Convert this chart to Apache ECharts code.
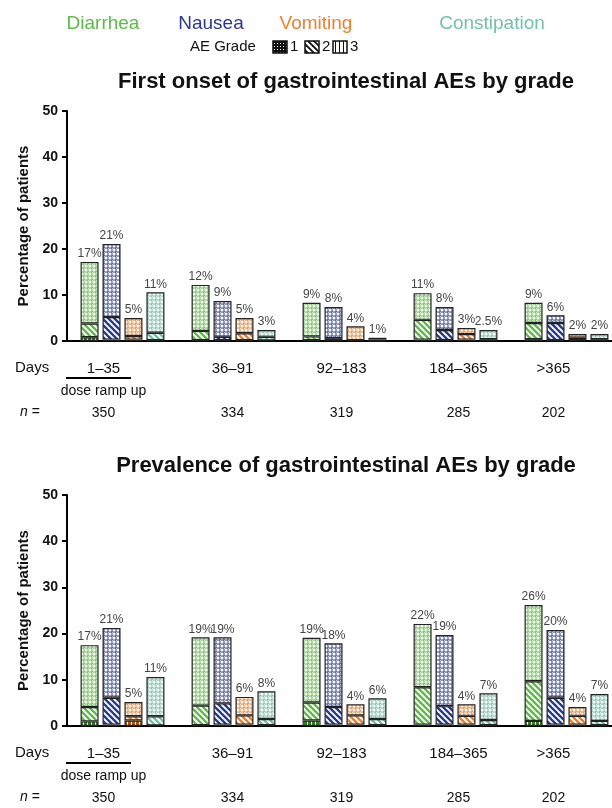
<!DOCTYPE html>
<html><head><meta charset="utf-8">
<script src="https://cdn.jsdelivr.net/npm/echarts@6/dist/echarts.min.js"></script>
<style>html,body{margin:0;padding:0;background:#fff}#c{width:612px;height:808px}</style>
</head><body><div id="c"></div>
<script>
// ---------- DATA ----------
const categories = ['1–35', '36–91', '92–183', '184–365', '>365'];
const nValues = ['350', '334', '319', '285', '202'];
const diseases = ['Diarrhea', 'Nausea', 'Vomiting', 'Constipation'];
const gradeNames = ['1', '2', '3'];
const yTickMin = 0, yTickMax = 50, yTickStep = 10;

// First onset (percent of patients)
const onsetDiarrheaG1 = [13.4, 10.0, 7.3, 5.8, 4.4];
const onsetDiarrheaG2 = [3.0, 2.0, 0.8, 4.3, 3.5];
const onsetDiarrheaG3 = [0.8, 0.2, 0.2, 0.3, 0.4];
const onsetDiarrheaLabels = ['17%', '12%', '9%', '11%', '9%'];
const onsetNauseaG1 = [15.9, 7.8, 6.8, 5.0, 1.7];
const onsetNauseaG2 = [4.9, 0.7, 0.4, 2.2, 3.7];
const onsetNauseaG3 = [0.3, 0.2, 0.2, 0.2, 0.2];
const onsetNauseaLabels = ['21%', '9%', '8%', '8%', '6%'];
const onsetVomitingG1 = [3.9, 3.3, 3.0, 1.3, 0.8];
const onsetVomitingG2 = [0.8, 1.5, 0.1, 1.2, 0.5];
const onsetVomitingG3 = [0.3, 0.2, 0.1, 0.3, 0.2];
const onsetVomitingLabels = ['5%', '5%', '4%', '3%', '2%'];
const onsetConstipationG1 = [8.8, 1.5, 0.4, 2.0, 1.1];
const onsetConstipationG2 = [1.6, 0.8, 0.3, 0.3, 0.3];
const onsetConstipationG3 = [0.2, 0.1, 0.0, 0.1, 0.1];
const onsetConstipationLabels = ['11%', '3%', '1%', '2.5%', '2%'];

// Prevalence (percent of patients)
const prevDiarrheaG1 = [13.4, 14.8, 14.0, 13.7, 16.5];
const prevDiarrheaG2 = [3.1, 4.2, 3.9, 8.1, 8.6];
const prevDiarrheaG3 = [1.0, 0.2, 1.2, 0.3, 1.1];
const prevDiarrheaLabels = ['17%', '19%', '19%', '22%', '26%'];
const prevNauseaG1 = [15.1, 14.3, 13.8, 15.4, 14.7];
const prevNauseaG2 = [5.8, 4.6, 3.8, 4.0, 5.8];
const prevNauseaG3 = [0.3, 0.3, 0.3, 0.3, 0.3];
const prevNauseaLabels = ['21%', '19%', '18%', '19%', '20%'];
const prevVomitingG1 = [3.1, 4.0, 2.4, 2.5, 1.9];
const prevVomitingG2 = [0.9, 2.0, 2.0, 1.9, 1.9];
const prevVomitingG3 = [1.2, 0.3, 0.3, 0.3, 0.3];
const prevVomitingLabels = ['5%', '6%', '4%', '4%', '4%'];
const prevConstipationG1 = [8.5, 6.0, 4.5, 5.8, 5.8];
const prevConstipationG2 = [2.0, 1.3, 1.3, 1.1, 0.9];
const prevConstipationG3 = [0.1, 0.2, 0.2, 0.2, 0.2];
const prevConstipationLabels = ['11%', '8%', '6%', '7%', '7%'];

// ---------- STYLE ----------
const FONT = '"Liberation Sans", Arial, Helvetica, sans-serif';
const textColors = {Diarrhea: '#5bbd48', Nausea: '#2b3a8c', Vomiting: '#f08030', Constipation: '#72c2aa'};
const baseColors = {Diarrhea: '#5cbc46', Nausea: '#283a8f', Vomiting: '#f07d22', Constipation: '#6fc0a8'};
const dotColors = {Diarrhea: '#80cc6d', Nausea: '#5f6bab', Vomiting: '#f39a55', Constipation: '#8ccdb9'};
const darkColors = {Diarrhea: '#2f7a22', Nausea: '#101c55', Vomiting: '#b55208', Constipation: '#3b8a73'};
const labelShift = [-19, -1, -3, 3, -13];

function mk(w, h, fn) { const c = document.createElement('canvas'); c.width = w; c.height = h; fn(c.getContext('2d')); return c; }
function dotPattern(color) {
  return {image: mk(4, 4, g => {
    g.fillStyle = color; g.fillRect(0, 0, 4, 4);
    g.fillStyle = '#ffffff';
    g.beginPath(); g.arc(2, 2, 1.5, 0, Math.PI * 2); g.fill();
    g.fillStyle = 'rgba(255,255,255,0.6)';
    g.fillRect(0, 0, 1, 1);
  }), repeat: 'repeat'};
}
function stripePattern(color, bg) {
  return {image: mk(6, 6, g => {
    g.fillStyle = bg || '#ffffff'; g.fillRect(0, 0, 6, 6);
    g.strokeStyle = color; g.lineWidth = 2.4;
    for (const k of [-6, 0, 6]) { g.beginPath(); g.moveTo(k - 1, -1); g.lineTo(k + 7, 7); g.stroke(); }
  }), repeat: 'repeat'};
}
function vertPattern(color, bg) {
  return {image: mk(4, 4, g => {
    g.fillStyle = color; g.fillRect(0, 0, 4, 4);
    g.fillStyle = bg || '#ffffff'; g.fillRect(3, 0, 1, 4);
  }), repeat: 'repeat'};
}

const charts = [
  {key: 'onset', title: 'First onset of gastrointestinal AEs by grade', top: 111, height: 230,
   data: {
     Diarrhea: [onsetDiarrheaG1, onsetDiarrheaG2, onsetDiarrheaG3, onsetDiarrheaLabels],
     Nausea: [onsetNauseaG1, onsetNauseaG2, onsetNauseaG3, onsetNauseaLabels],
     Vomiting: [onsetVomitingG1, onsetVomitingG2, onsetVomitingG3, onsetVomitingLabels],
     Constipation: [onsetConstipationG1, onsetConstipationG2, onsetConstipationG3, onsetConstipationLabels]}},
  {key: 'prev', title: 'Prevalence of gastrointestinal AEs by grade', top: 495, height: 231,
   data: {
     Diarrhea: [prevDiarrheaG1, prevDiarrheaG2, prevDiarrheaG3, prevDiarrheaLabels],
     Nausea: [prevNauseaG1, prevNauseaG2, prevNauseaG3, prevNauseaLabels],
     Vomiting: [prevVomitingG1, prevVomitingG2, prevVomitingG3, prevVomitingLabels],
     Constipation: [prevConstipationG1, prevConstipationG2, prevConstipationG3, prevConstipationLabels]}}
];

const rich = {};
categories.forEach((c, i) => {
  const s = labelShift[i];
  const pad = s < 0 ? [0, -2 * s, 0, 0] : [0, 0, 0, 2 * s];
  rich['d' + i] = {fontSize: 15, lineHeight: 22, color: '#111', fontFamily: FONT, align: 'center', padding: pad};
  rich['r' + i] = {fontSize: 14, lineHeight: 22, color: '#111', fontFamily: FONT, align: 'center', padding: pad};
  rich['n' + i] = {fontSize: 14, lineHeight: 22, color: '#111', fontFamily: FONT, align: 'center', padding: pad};
});

const grids = [], xAxes = [], yAxes = [], series = [], titles = [];
charts.forEach((ch, ci) => {
  grids.push({left: 67, top: ch.top, height: ch.height, width: 555, containLabel: false, outerBoundsMode: 'none'});
  xAxes.push({type: 'category', gridIndex: ci, data: categories,
    axisLine: {lineStyle: {color: '#000', width: 2}}, axisTick: {show: false},
    axisLabel: {interval: 0, margin: 17, fontFamily: FONT, rich: rich,
      formatter: (v, i) => `{d${i}|${v}}\n{r${i}|${i === 0 ? 'dose ramp up' : ' '}}\n{n${i}|${nValues[i]}}`}});
  yAxes.push({type: 'value', gridIndex: ci, min: yTickMin, max: yTickMax, interval: yTickStep,
    name: 'Percentage of patients', nameLocation: 'middle', nameGap: 36,
    nameTextStyle: {fontFamily: FONT, fontSize: 15, fontWeight: 'bold', color: '#111'},
    axisLine: {show: true, lineStyle: {color: '#000', width: 2}},
    axisTick: {show: true, length: 5, lineStyle: {color: '#000', width: 2}},
    axisLabel: {fontFamily: FONT, fontSize: 14, fontWeight: 'bold', color: '#111', margin: 9},
    splitLine: {show: false}});
  titles.push({text: ch.title, left: 341, textAlign: 'center', top: ch.top - 45,
    textStyle: {fontFamily: FONT, fontSize: 22, fontWeight: 'bold', color: '#111'}});
  diseases.forEach(d => {
    const [g1, g2, g3, labels] = ch.data[d];
    const stack = ch.key + d;
    const common = {type: 'bar', xAxisIndex: ci, yAxisIndex: ci, stack: stack, barWidth: 18, barGap: '22%'};
    series.push(Object.assign({}, common, {name: d + ' grade 3', data: g3,
      itemStyle: {color: vertPattern(darkColors[d]), borderColor: '#222', borderWidth: 1.2}}));
    series.push(Object.assign({}, common, {name: d + ' grade 2', data: g2,
      itemStyle: {color: stripePattern(baseColors[d]), borderColor: '#222', borderWidth: 1.2}}));
    series.push(Object.assign({}, common, {name: d + ' grade 1', data: g1,
      itemStyle: {color: dotPattern(dotColors[d]), borderColor: '#222', borderWidth: 1.2},
      label: {show: true, position: 'top', distance: 2, fontFamily: FONT, fontSize: 12, color: '#444',
        formatter: p => labels[p.dataIndex]}}));
  });
});

// legend / annotation graphics
const blackDots = {image: mk(3, 3, g => { g.fillStyle = '#111'; g.fillRect(0, 0, 3, 3); g.fillStyle = '#fff'; g.fillRect(1, 1, 1, 1); }), repeat: 'repeat'};
const legendPatterns = [blackDots, stripePattern('#fff', '#111'), vertPattern('#fff', '#111')];
const graphic = [];
const legendX = [103, 211, 316, 492];
diseases.forEach((d, i) => graphic.push({type: 'text', x: legendX[i], y: 24,
  style: {text: d, fill: textColors[d], font: `19px ${FONT}`, textAlign: 'center', textVerticalAlign: 'middle'}}));
graphic.push({type: 'text', x: 190, y: 47, style: {text: 'AE Grade', fill: '#111', font: `15px ${FONT}`, textVerticalAlign: 'middle'}});
const iconX = [273, 305, 333];
gradeNames.forEach((g, i) => {
  graphic.push({type: 'rect', shape: {x: iconX[i], y: 41, width: 14, height: 12},
    style: {fill: legendPatterns[i], stroke: '#111', lineWidth: 1.5}});
  graphic.push({type: 'text', x: iconX[i] + 17, y: 47, style: {text: g, fill: '#111', font: `15px ${FONT}`, textVerticalAlign: 'middle'}});
});
charts.forEach(ch => {
  const axisY = ch.top + ch.height;
  graphic.push({type: 'text', x: 15, y: axisY + 27, style: {text: 'Days', fill: '#111', font: `15px ${FONT}`, textVerticalAlign: 'middle'}});
  graphic.push({type: 'text', x: 20, y: axisY + 71,
    style: {text: '{i|n} =', fill: '#111', font: `14px ${FONT}`, textVerticalAlign: 'middle',
      rich: {i: {fontStyle: 'italic', fontSize: 14, fontFamily: FONT, fill: '#111'}}}});
  graphic.push({type: 'line', shape: {x1: 66, y1: axisY + 37, x2: 131, y2: axisY + 37},
    style: {stroke: '#000', lineWidth: 2}});
});

const chart = echarts.init(document.getElementById('c'), null, {renderer: 'canvas'});
chart.setOption({
  animation: false, backgroundColor: '#fff',
  title: titles, grid: grids, xAxis: xAxes, yAxis: yAxes, series: series, graphic: graphic
});
</script></body></html>
